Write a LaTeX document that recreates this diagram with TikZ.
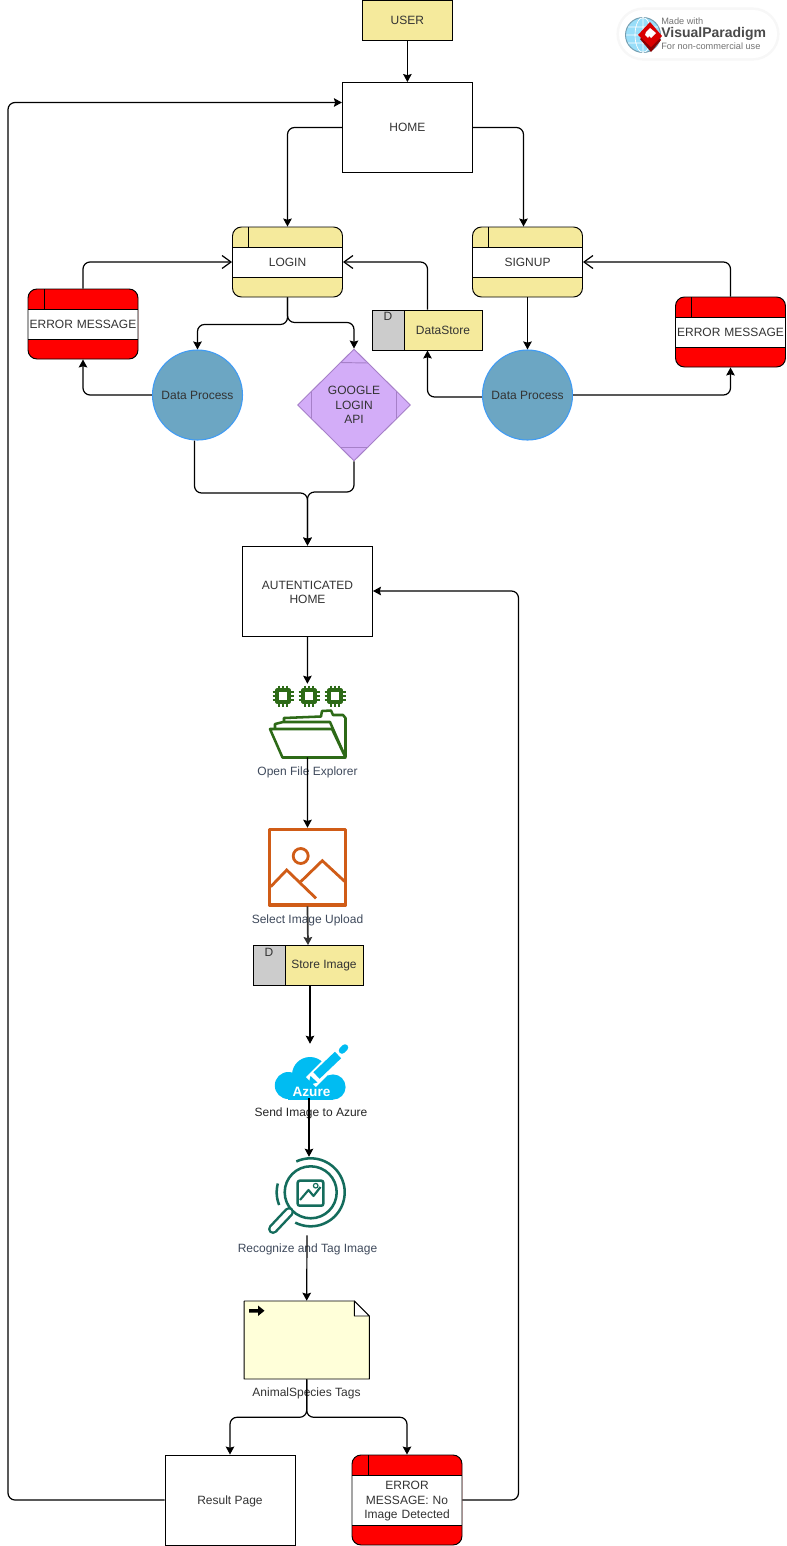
\documentclass[tikz,border=0pt]{standalone}
\usepackage{fontspec}
\setmainfont{Liberation Sans}
\usetikzlibrary{arrows.meta,shapes.geometric,calc}
\newlength\pxu
\setlength\pxu{.75pt}
\definecolor{dfdyellow}{HTML}{F5EA9C}
\definecolor{txt}{HTML}{333333}
\definecolor{icontxt}{HTML}{3F4A5C}
\definecolor{procblue}{HTML}{6CA6C3}
\definecolor{procedge}{HTML}{3F9BF5}
\definecolor{apipurple}{HTML}{D3ADF8}
\definecolor{apiedge}{HTML}{A680C8}
\definecolor{gfolder}{HTML}{2D6A17}
\definecolor{oimage}{HTML}{D05C17}
\definecolor{azureblue}{HTML}{00BCF2}
\definecolor{tealmag}{HTML}{146C5C}
\definecolor{notey}{HTML}{FFFFD9}
\definecolor{vpgrey}{HTML}{4A4A4A}
\tikzset{
  base/.style={font=\fontsize{9}{10.9}\selectfont, text=txt, align=center, inner sep=0pt},
  boxnode/.style={base, draw=black, line width=.7pt, fill=white, minimum width=130\pxu, minimum height=90\pxu},
  userbox/.style={base, draw=black, line width=.7pt, fill=dfdyellow, minimum width=90\pxu, minimum height=40\pxu},
  dfdbox/.style args={#1/#2}{base, draw=black, line width=.7pt, fill=#1, rounded corners=9\pxu,
    minimum width=110\pxu, minimum height=#2\pxu, text width=108\pxu,
    path picture={
      \fill[white, sharp corners] ([yshift=-20\pxu]path picture bounding box.north west) rectangle ([yshift=20\pxu]path picture bounding box.south east);
      \draw[line width=.7pt, sharp corners] ([yshift=-20\pxu]path picture bounding box.north west) -- ([yshift=-20\pxu]path picture bounding box.north east);
      \draw[line width=.7pt, sharp corners] ([yshift=20\pxu]path picture bounding box.south west) -- ([yshift=20\pxu]path picture bounding box.south east);
      \draw[line width=.7pt, sharp corners] ([xshift=16\pxu]path picture bounding box.north west) -- ([xshift=16\pxu,yshift=-20\pxu]path picture bounding box.north west);
    }},
  storebox/.style={base, draw=black, line width=.7pt, fill=dfdyellow, minimum width=110\pxu, minimum height=40\pxu,
    path picture={
      \fill[black!20] (path picture bounding box.north west) rectangle ([xshift=32\pxu]path picture bounding box.south west);
      \draw[line width=.7pt] ([xshift=32\pxu]path picture bounding box.north west) -- ([xshift=32\pxu]path picture bounding box.south west);
    }},
  procnode/.style={base, circle, draw=procedge, line width=.8pt, fill=procblue, minimum size=90\pxu},
  apinode/.style={base, diamond, draw=apiedge, line width=.7pt, fill=apipurple, minimum width=113\pxu, minimum height=112\pxu},
  iconbox/.style={inner sep=0pt, minimum width=#1\pxu},
  plain/.style={base},
  iconlabel/.style={base, text=icontxt},
  conn/.style={line width=.9pt, rounded corners=7\pxu, -{Stealth[length=6pt,width=6.4pt,inset=.9pt]}},
  openconn/.style={line width=.9pt, rounded corners=7\pxu, -{Straight Barb[length=6.75pt,width=9.75pt,line width=.9pt]}},
}
\begin{document}
\begin{tikzpicture}[x=.75pt,y=-.75pt]
\useasboundingbox (0,0) rectangle (786,1546);
\fill[white] (0,0) rectangle (786,1546);

% watermark
\draw[black!3, line width=2.4pt, fill=white, rounded corners=19pt] (618,9) rectangle (778,59);
\fill[white, rounded corners=18pt] (619,10) rectangle (777,58);
\fill[cyan!40!white] (643,35) circle (17.5);
\draw[cyan!50!black!70!white, line width=.7pt] (643,35) circle (17.5);
\draw[white, line width=.5pt] (643,35) ellipse (8 and 17.5) (626,35) -- (660,35) (628,27) -- (658,27) (628,43) -- (658,43) (643,18) -- (643,52);
\fill[red!55!black] (640,39) -- (650,29) -- (661,40) -- (651,52) -- cycle;
\fill[red!85!black] (638,35) -- (650,22) -- (662,36) -- (651,47) -- cycle;
\fill[white] (646,32) -- (650,28) -- (656,33) -- (651,38) -- (649,36) -- (648,38) -- (645,35) -- cycle;
\node[anchor=west, inner sep=0pt, font=\fontsize{6.9}{8}\selectfont, text=black!55] (vpa) at (661,21.5) {Made with};
\node[anchor=west, inner sep=0pt, font=\fontsize{10.5}{12}\selectfont\bfseries, text=vpgrey] (vpb) at (661,33.5) {VisualParadigm};
\node[anchor=west, inner sep=0pt, font=\fontsize{6.9}{8}\selectfont, text=black!55] (vpc) at (661,46) {For non-commercial use};

% nodes
\node[userbox] (user) at (407.4,20) {USER};
\node[boxnode] (home) at (407.4,127.5) {HOME};
\node[dfdbox=dfdyellow/70] (login) at (287.5,262) {LOGIN};
\node[dfdbox=dfdyellow/70] (signup) at (527.5,262) {SIGNUP};
\node[dfdbox=red/70] (errl) at (83,324) {ERROR MESSAGE};
\node[dfdbox=red/70] (errr) at (730.5,332) {ERROR MESSAGE};
\node[storebox] (ds) at (427.5,330) {};
\node[plain] (dsd) at (388,316.5) {D};
\node[plain] (dst) at (443,330) {DataStore};
\node[procnode] (dpl) at (197.5,395) {Data Process};
\node[procnode] (dpr) at (527.5,395) {Data Process};
\node[apinode] (google) at (354,405) {GOOGLE\\LOGIN\\API};
\draw[apiedge, line width=.7pt] (340,362.5) -- (368,363) (311.5,391) -- (311.5,419) (396.5,391) -- (396.5,419) (340,447.5) -- (368,447.5);
\node[boxnode] (auth) at (307.5,591) {\rule{0pt}{8pt}AUTENTICATED\\HOME};

% folder icon
\node[iconbox=78, minimum height=73\pxu] (folder) at (307.4,720.5) {};
\foreach \c in {283,309,335}{
  \draw[gfolder, line width=2.3pt, line join=round] ({\c-6},690) rectangle ({\c+6},702);
  \foreach \o in {-4,0,4}{
    \draw[gfolder, line width=1.2pt] ({\c+\o},685.5) -- ({\c+\o},690) ({\c+\o},702) -- ({\c+\o},706.5);
    \draw[gfolder, line width=1.2pt] ({\c-10.5},{696+\o}) -- ({\c-6},{696+\o}) ({\c+6},{696+\o}) -- ({\c+10.5},{696+\o});
  }
}
\draw[gfolder, line width=1.9pt, line join=round] (284,722) -- (284,718) -- (321,716.5) -- (322,711) -- (331,710.5) -- (333,715) -- (343,715) -- (345.5,718) -- (345.5,757);
\draw[gfolder, line width=1.9pt, line join=round] (275,729) -- (275,724) -- (283,722) -- (330,722) -- (344,754);
\draw[gfolder, line width=1.9pt, line join=round, fill=white] (270,729) -- (332,729) -- (345.5,757.5) -- (282.5,757.5) -- cycle;
\node[iconlabel] (folderlab) at (307.5,772) {Open File Explorer};

% image icon
\node[iconbox=78, minimum height=78\pxu] (imgicon) at (307.5,867) {};
\draw[oimage, line width=2.3pt, line join=round] (269.5,829.5) rectangle (345.7,905);
\draw[oimage, line width=2.1pt] (300.7,856) circle (7.5);
\draw[oimage, line width=2.1pt] (270.7,886.7) -- (286.7,870) -- (316,898.3);
\draw[oimage, line width=2.1pt] (300.7,881.7) -- (322.3,860.7) -- (345,881.7);
\node[iconlabel] (imglab) at (307.5,920) {Select Image Upload};

% store image
\node[storebox] (store) at (308,965.5) {};
\node[plain] (stored) at (269,952) {D};
\node[plain] (storet) at (324,965.5) {Store Image};

% azure icon
\node[iconbox=74, minimum height=54\pxu] (azure) at (311,1071) {};
\fill[azureblue] (288.3,1085.5) circle (13.5);
\fill[azureblue] (310,1075) circle (18);
\fill[azureblue] (333,1087) circle (12.6);
\fill[azureblue] (288,1086) rectangle (333,1099.5);
\draw[white, line width=14\pxu] (311,1082) -- (341,1052);
\draw[azureblue, line width=9\pxu] (316.5,1075.5) -- (338,1055);
\draw[azureblue, line width=6.5\pxu, line cap=round] (342,1050.5) -- (345,1047.5);
\fill[azureblue] (308.3,1085) -- (310.5,1076) -- (317.5,1082.5) -- cycle;
\node[inner sep=0pt, font=\fontsize{10.2}{12}\selectfont\bfseries, text=white] (azuretxt) at (311.5,1092) {Azure};
\node[base, text=black!85] (azurelab) at (311,1113) {Send Image to Azure};

% magnifier icon
\node[iconbox=74, minimum height=78\pxu] (magn) at (309,1196) {};
\draw[tealmag, line width=1.9pt] (310.7,1192.3) circle (26);
\draw[tealmag, line width=1.9pt, domain=-115:117, samples=50, variable=\t] plot ({310.7+34*cos(\t)},{1192.3+34*sin(\t)});
\draw[tealmag, line width=1.9pt, domain=158:195, samples=15, variable=\t] plot ({310.7+34*cos(\t)},{1192.3+34*sin(\t)});
\draw[tealmag, line width=10\pxu, line cap=round] (289,1212) -- (273,1229);
\draw[white, line width=5\pxu, line cap=round] (289,1212) -- (273,1229);
\draw[tealmag, line width=1.9pt, rounded corners=2\pxu] (297.7,1180.7) rectangle (323.3,1205.7);
\draw[tealmag, line width=1.6pt, line join=round] (300,1200) -- (308.5,1190) -- (313.5,1196) -- (320.5,1187);
\draw[tealmag, line width=.9pt] (315.7,1185.7) circle (2.3);
\node[iconlabel] (magnlab) at (307.5,1249) {Recognize and Tag Image};

% note
\node[inner sep=0pt, minimum width=125\pxu, minimum height=78\pxu] (note) at (306.7,1340) {};
\draw[line width=.7pt, fill=notey, line join=round] (244.2,1301) -- (354.3,1301) -- (369.3,1316) -- (369.3,1379) -- (244.2,1379) -- cycle;
\draw[line width=.7pt, fill=white, line join=round] (354.3,1301) -- (369.3,1316) -- (354.3,1316) -- cycle;
\fill[black] (249,1309) -- (258,1309) -- (258,1305.5) -- (264.5,1310.7) -- (258,1316) -- (258,1312.5) -- (249,1312.5) -- cycle;
\node[iconlabel, text=txt] (notelab) at (306.5,1393) {AnimalSpecies Tags};

\node[boxnode, text depth=0pt] (result) at (230,1500) {Result Page};
\node[dfdbox=red/90] (errn) at (407,1500) {\rule{0pt}{8pt}ERROR\\MESSAGE: No\\Image Detected};

% connectors
\coordinate (rail) at (8,800);
\coordinate (merge) at (307.5,493);
\coordinate (back) at (518.5,1000);
\draw[conn] (user) -- (home);
\draw[conn] (home.west) -| (login.north);
\draw[conn] (home.east) -| ([xshift=-4\pxu]signup.north);
\draw[conn] (login.south) -- ++(0,27) -| (dpl.north);
\draw[conn] (login.south) -- ++(0,25) -| (google.north);
\draw[openconn] (errl.north) |- (login.west);
\draw[openconn] (errr.north) |- (signup.east);
\draw[openconn] (ds.north) |- (login.east);
\draw[conn] (dpl.west) -| (errl.south);
\draw[conn] ([yshift=-2\pxu]dpr.west) -| (ds.south);
\draw[conn] (dpr.east) -| (errr.south);
\draw[conn] (signup.south) -- (dpr.north);
\draw[conn] ([xshift=-3\pxu]dpl.south) |- (merge) -- (auth.north);
\draw[conn] (google.south) |- ([yshift=1\pxu]merge) -- (auth.north);
\draw[conn] (auth.south) -- (folder.north);
\draw[conn] (folder.south) -- (imgicon.north);
\draw[conn, line width=1.3pt, draw=black!80] (imgicon.south) -- (store.north);
\draw[conn] ([xshift=2\pxu]store.south) -- ([xshift=-1\pxu]azure.north);
\draw[conn] ([xshift=-2\pxu]azure.south) -- (magn.north);
\draw[conn] ([xshift=-2\pxu]magn.south) -- (note.north);
\draw[conn] (note.south) -- ++(0,38) -| (result.north);
\draw[conn] (note.south) -- ++(0,38) -| (errn.north);
\draw[conn] (result.west) -| (rail) |- ([yshift=25\pxu]home.west);
\draw[conn] (errn.east) -| (back) |- (auth.east);
\end{tikzpicture}
\end{document}
